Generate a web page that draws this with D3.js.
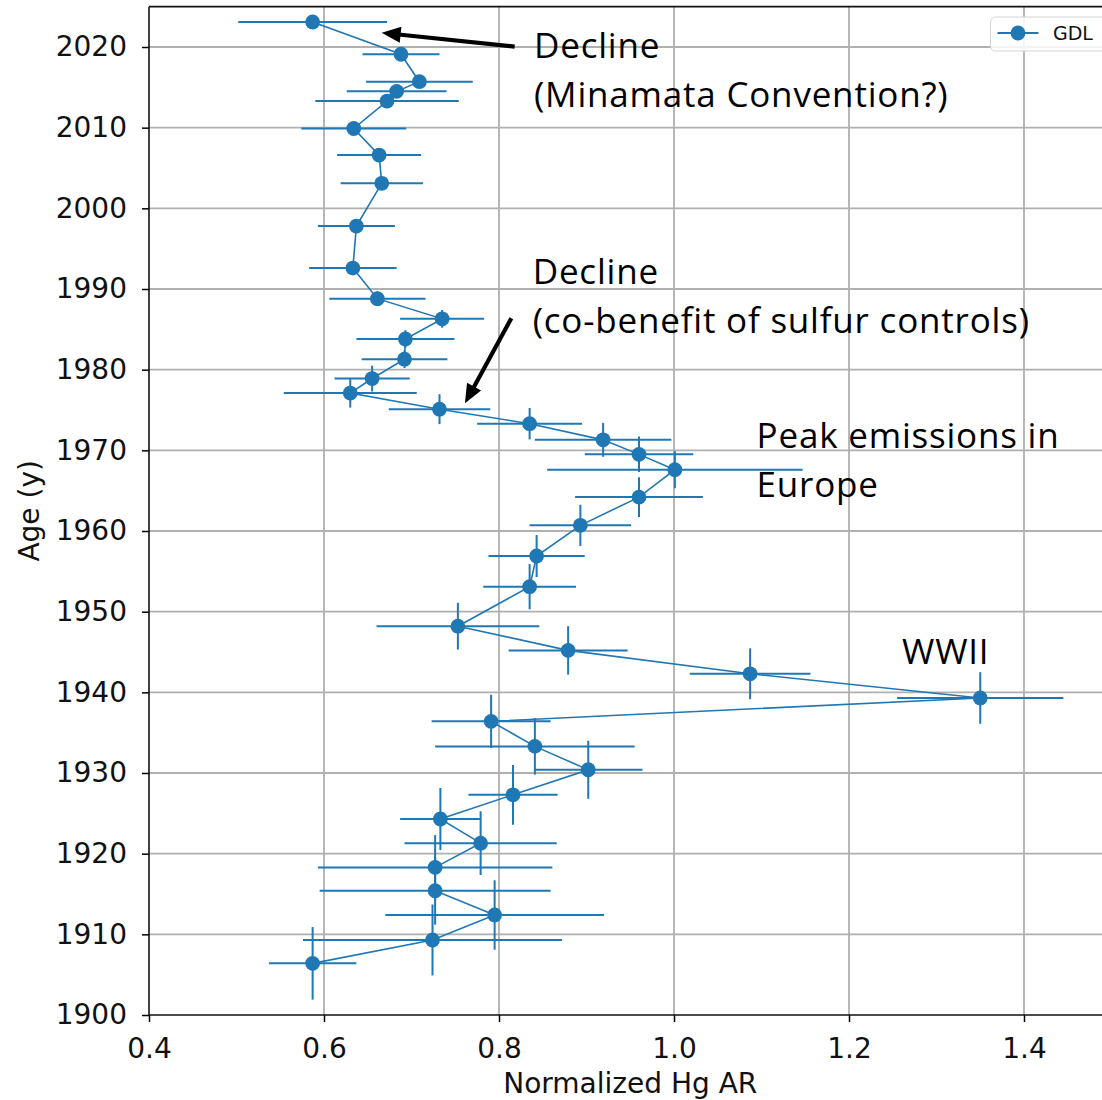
<!DOCTYPE html>
<html><head><meta charset="utf-8">
<script src="https://cdn.jsdelivr.net/npm/d3@7"></script>
<style>body{margin:0;background:#fff} svg{display:block}</style>
</head><body>
<svg id="c" width="1102" height="1100"></svg>
<script>
// ---- data ----
const seriesName = "GDL";
const ages = [2023.1, 2019.1, 2015.7, 2014.5, 2013.3, 2009.9, 2006.6, 2003.1, 1997.8, 1992.6,
  1988.8, 1986.3, 1983.8, 1981.3, 1978.9, 1977.1, 1975.1, 1973.3, 1971.3, 1969.5,
  1967.6, 1964.2, 1960.7, 1956.9, 1953.1, 1948.2, 1945.2, 1942.3, 1939.3, 1936.4,
  1933.3, 1930.4, 1927.3, 1924.3, 1921.3, 1918.3, 1915.4, 1912.4, 1909.3, 1906.4];
const hgAR = [0.587, 0.688, 0.709, 0.683, 0.672, 0.634, 0.663, 0.666, 0.637, 0.633,
  0.661, 0.735, 0.693, 0.692, 0.655, 0.630, 0.732, 0.835, 0.919, 0.960,
  1.001, 0.960, 0.893, 0.843, 0.835, 0.753, 0.879, 1.087, 1.350, 0.791,
  0.841, 0.902, 0.816, 0.733, 0.779, 0.727, 0.727, 0.795, 0.724, 0.587];
const hgErr = [0.085, 0.044, 0.061, 0.057, 0.082, 0.060, 0.048, 0.047, 0.044, 0.050,
  0.055, 0.048, 0.056, 0.049, 0.043, 0.076, 0.058, 0.060, 0.078, 0.062,
  0.146, 0.073, 0.058, 0.055, 0.053, 0.093, 0.068, 0.069, 0.095, 0.068,
  0.114, 0.062, 0.051, 0.046, 0.087, 0.134, 0.132, 0.125, 0.148, 0.050];
const ageErr = [0.4, 0.4, 0.4, 0.4, 0.5, 0.5, 0.5, 0.6, 0.6, 0.7,
  0.9, 1.1, 1.1, 1.1, 1.6, 1.8, 1.85, 1.95, 2.1, 2.2,
  2.3, 2.45, 2.55, 2.6, 2.8, 2.9, 3.0, 3.15, 3.2, 3.3,
  3.5, 3.6, 3.7, 3.85, 3.95, 4.0, 4.2, 4.3, 4.4, 4.5];
const xTicks = [0.4, 0.6, 0.8, 1.0, 1.2, 1.4];
const yTicks = [1900, 1910, 1920, 1930, 1940, 1950, 1960, 1970, 1980, 1990, 2000, 2010, 2020];
const xLabel = "Normalized Hg AR";
const yLabel = "Age (y)";
const noteLines = [
  {text: "Decline", hg: 0.84, age: 2018.67},
  {text: "(Minamata Convention?)", hg: 0.84, age: 2012.6},
  {text: "Decline", hg: 0.8385, age: 1990.58},
  {text: "(co-benefit of sulfur controls)", hg: 0.8385, age: 1984.5},
  {text: "Peak emissions in", hg: 1.0944, age: 1970.33},
  {text: "Europe", hg: 1.0944, age: 1964.2},
  {text: "WWII", hg: 1.2606, age: 1943.5}
];
const arrowTails = [[0.8179, 2020.04], [0.8141, 1986.37]];
const arrowTips  = [[0.6659, 2021.77], [0.7611, 1975.83]];

// ---- layout ----
const svg = d3.select("#c");
const pLeft = 149, pRight = 1111.5, pTop = 6.67, pBottom = 1015;
const x = d3.scaleLinear().domain([0.4, 1.5]).range([pLeft, pRight]);
const y = d3.scaleLinear().domain([1900, 2025]).range([pBottom, pTop]);
const blue = "#1f77b4";
const tickFont = "'DejaVu Sans', sans-serif";

const data = ages.map((a, i) => ({age: a, hg: hgAR[i], xe: hgErr[i], ye: ageErr[i]}));

// grid
const grid = svg.append("g").attr("stroke", "#b0b0b0").attr("stroke-width", 1.8);
grid.selectAll("line.v").data(xTicks.slice(1)).join("line").attr("class", "v")
  .attr("x1", d => x(d)).attr("x2", d => x(d)).attr("y1", pTop).attr("y2", pBottom);
grid.selectAll("line.h").data(yTicks.slice(1)).join("line").attr("class", "h")
  .attr("x1", pLeft).attr("x2", pRight).attr("y1", d => y(d)).attr("y2", d => y(d));

// error bars
const eb = svg.append("g").attr("stroke", blue).attr("stroke-width", 2);
eb.selectAll("line.xe").data(data).join("line").attr("class", "xe")
  .attr("x1", d => x(d.hg - d.xe)).attr("x2", d => x(d.hg + d.xe))
  .attr("y1", d => y(d.age)).attr("y2", d => y(d.age));
eb.selectAll("line.ye").data(data).join("line").attr("class", "ye")
  .attr("x1", d => x(d.hg)).attr("x2", d => x(d.hg))
  .attr("y1", d => y(d.age - d.ye)).attr("y2", d => y(d.age + d.ye));

// connecting line
svg.append("path").datum(data)
  .attr("fill", "none").attr("stroke", blue).attr("stroke-width", 1.6)
  .attr("d", d3.line().x(d => x(d.hg)).y(d => y(d.age)));

// markers
svg.append("g").selectAll("circle").data(data).join("circle")
  .attr("cx", d => x(d.hg)).attr("cy", d => y(d.age)).attr("r", 7.4).attr("fill", blue);

// axes
const yAxis = svg.append("g").attr("transform", `translate(${pLeft},0)`)
  .call(d3.axisLeft(y).tickValues(yTicks).tickSize(7).tickPadding(15).tickFormat(d3.format("d")));
const xAxis = svg.append("g").attr("transform", `translate(0,${pBottom})`)
  .call(d3.axisBottom(x).tickValues(xTicks).tickSize(7).tickPadding(16).tickFormat(d3.format(".1f")));
[yAxis, xAxis].forEach(g => {
  g.select(".domain").remove();
  g.selectAll(".tick line").attr("stroke", "#000").attr("stroke-width", 1.5);
  g.selectAll(".tick text").attr("font-family", tickFont).attr("font-size", 28).attr("fill", "#111");
});

// spines
const sp = svg.append("g").attr("stroke", "#111").attr("stroke-width", 1.6);
sp.append("line").attr("x1", pLeft).attr("x2", pLeft).attr("y1", pTop).attr("y2", pBottom);
sp.append("line").attr("x1", pLeft).attr("x2", pRight).attr("y1", pBottom).attr("y2", pBottom);
sp.append("line").attr("x1", pLeft).attr("x2", pRight).attr("y1", pTop).attr("y2", pTop);

// axis labels
svg.append("text").attr("x", (pLeft + pRight) / 2).attr("y", 1093)
  .attr("text-anchor", "middle").attr("font-family", tickFont).attr("font-size", 28).attr("fill", "#111")
  .text(xLabel);
svg.append("text").attr("transform", `translate(39,${(pTop + pBottom) / 2}) rotate(-90)`)
  .attr("text-anchor", "middle").attr("font-family", tickFont).attr("font-size", 28).attr("fill", "#111")
  .text(yLabel);

// legend
const lg = svg.append("g");
lg.append("rect").attr("x", pRight - 121).attr("y", 17).attr("width", 140).attr("height", 34)
  .attr("rx", 5).attr("fill", "#fff").attr("fill-opacity", 0.85).attr("stroke", "#d5d5d5");
lg.append("line").attr("x1", pRight - 114).attr("x2", pRight - 73).attr("y1", 33).attr("y2", 33)
  .attr("stroke", blue).attr("stroke-width", 2);
lg.append("circle").attr("cx", pRight - 93.5).attr("cy", 33).attr("r", 7.4).attr("fill", blue);
lg.append("text").attr("x", pRight - 58.5).attr("y", 40).attr("font-family", tickFont)
  .attr("font-size", 19).attr("fill", "#111").text(seriesName);

// annotations
svg.append("g").selectAll("text").data(noteLines).join("text")
  .attr("x", d => x(d.hg)).attr("y", d => y(d.age))
  .attr("font-family", "'Open Sans', 'Noto Sans', sans-serif").attr("font-size", 35)
  .attr("letter-spacing", 0.8).attr("fill", "#000")
  .text(d => d.text);

// arrows
const ag = svg.append("g");
arrowTails.forEach((t, i) => {
  const x0 = x(t[0]), y0 = y(t[1]), x1 = x(arrowTips[i][0]), y1 = y(arrowTips[i][1]);
  const dx = x1 - x0, dy = y1 - y0, L = Math.hypot(dx, dy), ux = dx / L, uy = dy / L;
  const hl = 19, hw = 8;
  const bx = x1 - ux * hl, by = y1 - uy * hl;
  ag.append("line").attr("x1", x0).attr("y1", y0).attr("x2", bx + ux * 2).attr("y2", by + uy * 2)
    .attr("stroke", "#000").attr("stroke-width", 4.2);
  ag.append("polygon").attr("fill", "#000")
    .attr("points", [[x1, y1], [bx - uy * hw, by + ux * hw], [bx + uy * hw, by - ux * hw]].map(p => p.join(",")).join(" "));
});
</script>
</body></html>
